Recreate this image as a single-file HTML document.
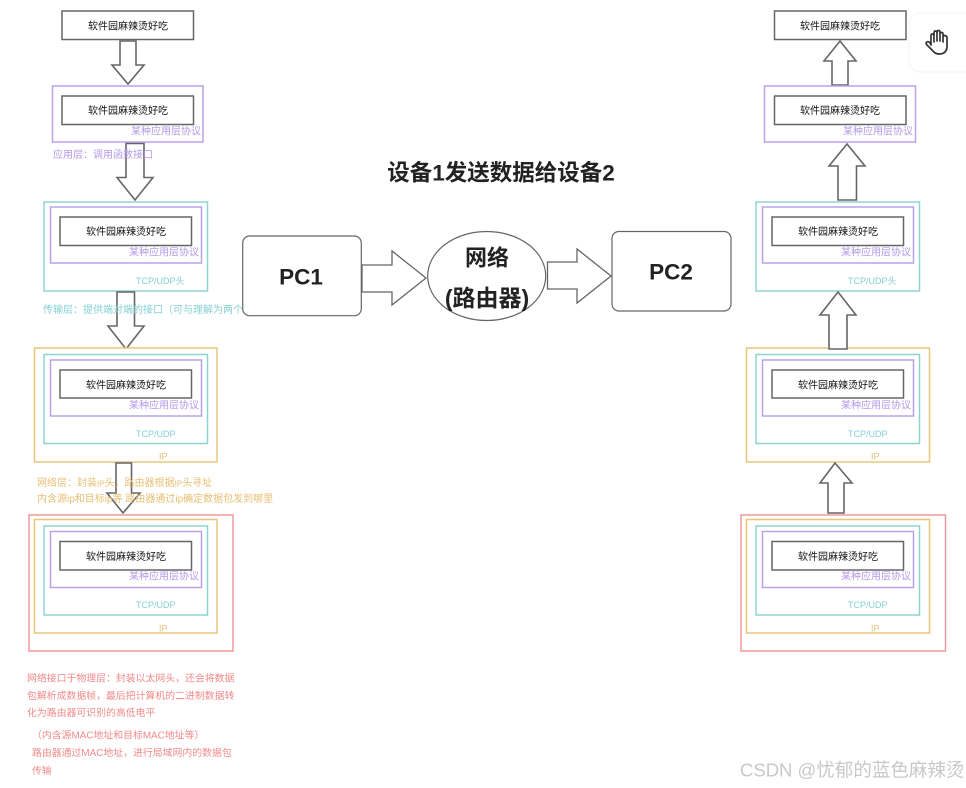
<!DOCTYPE html>
<html lang="zh">
<head>
<meta charset="utf-8">
<style>
html,body{margin:0;padding:0;background:#fff;}
body{width:966px;height:788px;overflow:hidden;position:relative;}
svg{display:block;position:absolute;left:0;top:0;}
text{font-family:"Liberation Sans","Noto Sans CJK SC",sans-serif;font-size:10px;dominant-baseline:central;transform:translateY(1.5px);}
.b{fill:#fff;stroke:#666;stroke-width:1.5;}
.a{fill:#fff;stroke:#666;stroke-width:1.6;stroke-linejoin:miter;}
.p{fill:#fff;stroke:#b9a2ea;stroke-width:1.5;}
.t{fill:#fff;stroke:#8fd3d0;stroke-width:1.5;}
.y{fill:#fff;stroke:#e8c67c;stroke-width:1.5;}
.r{fill:#fff;stroke:#ee9a9e;stroke-width:1.5;}
.bt{fill:#111;text-anchor:middle;}
.pt{fill:#b49ae8;}
.tt{fill:#85d0d4;}
.ts{fill:#85d0d4;font-size:9px;}
.yt{fill:#e6bf72;}
.ys{fill:#e6bf72;font-size:9px;}
.rt{fill:#f08a8a;font-size:9.9px;}
.big{font-weight:700;fill:#222;text-anchor:middle;}
</style>
</head>
<body>
<svg width="966" height="788" viewBox="0 0 966 788" xmlns="http://www.w3.org/2000/svg">
  <!-- LEFT STACK -->
  <polygon class="a" points="120,41 136,41 136,65 144,65 128,84 112,65 120,65"/>
  <rect class="p" x="52.5" y="86" width="150.5" height="56"/>
  <polygon class="a" points="126,143.5 144,143.5 144,177.5 153,177.5 135,200 117,177.5 126,177.5"/>
  <rect class="t" x="44" y="202" width="163.5" height="89"/>
  <rect class="p" x="50.5" y="207" width="151" height="56"/>
  <polygon class="a" points="117,292 134.5,292 134.5,326 144,326 126,349 108,326 117,326"/>
  <rect class="y" x="34.5" y="348" width="182.5" height="114"/>
  <rect class="t" x="44" y="354.5" width="163.5" height="89"/>
  <rect class="p" x="50.5" y="360" width="151" height="56"/>
  <polygon class="a" points="116,463 131.5,463 131.5,493 140,493 123,513 107,493 116,493"/>
  <rect class="r" x="29" y="515" width="204" height="136"/>
  <rect class="y" x="34.5" y="519.5" width="182.5" height="113.5"/>
  <rect class="t" x="44" y="526" width="163.5" height="89"/>
  <rect class="p" x="50.5" y="531.5" width="151" height="56"/>

  <rect class="b" x="62" y="11" width="131.5" height="28.5"/>
  <rect class="b" x="62" y="96" width="131.5" height="28.5"/>
  <rect class="b" x="60" y="217" width="131.5" height="28.5"/>
  <rect class="b" x="60" y="370" width="131.5" height="28"/>
  <rect class="b" x="60" y="541.5" width="131.5" height="28.5"/>

  <text class="bt" x="128" y="25.5">软件园麻辣烫好吃</text>
  <text class="bt" x="128" y="110">软件园麻辣烫好吃</text>
  <text class="bt" x="126" y="231">软件园麻辣烫好吃</text>
  <text class="bt" x="126" y="384.5">软件园麻辣烫好吃</text>
  <text class="bt" x="126" y="556">软件园麻辣烫好吃</text>

  <text class="pt" x="131" y="130.5">某种应用层协议</text>
  <text class="pt" x="53" y="154">应用层：调用函数接口</text>
  <text class="pt" x="129" y="251.5">某种应用层协议</text>
  <text class="ts" x="136" y="279.5">TCP/UDP头</text>
  <text class="tt" x="43" y="309">传输层：提供端对端的接口（可与理解为两个进程</text>
  <text class="pt" x="129" y="404.5">某种应用层协议</text>
  <text class="ts" x="136" y="432.5">TCP/UDP</text>
  <text class="ys" x="159" y="455">IP</text>
  <text class="yt" x="37" y="482">网络层：封装<tspan style="font-size:8px">IP</tspan>头，路由器根据<tspan style="font-size:8px">IP</tspan>头寻址</text>
  <text class="yt" x="37" y="498">内含源ip和目标ip等 路由器通过ip确定数据包发到哪里</text>
  <text class="pt" x="129" y="575.5">某种应用层协议</text>
  <text class="ts" x="136" y="603.5">TCP/UDP</text>
  <text class="ys" x="159" y="627">IP</text>
  <text class="rt" x="27" y="677.5">网络接口于物理层：封装以太网头，还会将数据</text>
  <text class="rt" x="27" y="695">包解析成数据帧，最后把计算机的二进制数据转</text>
  <text class="rt" x="27" y="712">化为路由器可识别的高低电平</text>
  <text class="rt" x="32" y="734.5">（内含源MAC地址和目标MAC地址等）</text>
  <text class="rt" x="32" y="752">路由器通过MAC地址，进行局域网内的数据包</text>
  <text class="rt" x="32" y="770">传输</text>

  <!-- CENTER -->
  <text class="big" x="501" y="171.5" style="font-size:22.5px">设备1发送数据给设备2</text>
  <rect class="b" x="242.7" y="236" width="118.6" height="79.7" rx="7" ry="7" style="stroke-width:1.2"/>
  <text class="big" x="301" y="275.5" style="font-size:22.5px">PC1</text>
  <polygon class="a" points="362,265 392,265 392,251 426,278 392,305 392,292 362,292" style="stroke-width:1.3"/>
  <ellipse cx="486.7" cy="276" rx="59" ry="44.5" fill="#fff" stroke="#666" stroke-width="1.2"/>
  <text class="big" x="487" y="256.5" style="font-size:22px">网络</text>
  <text class="big" x="487" y="296.5" style="font-size:23px">(路由器)</text>
  <polygon class="a" points="547.5,262 577,262 577,249 611,276 577,303 577,289 547.5,289" style="stroke-width:1.3"/>
  <rect class="b" x="612" y="231.5" width="119" height="79.5" rx="7" ry="7" style="stroke-width:1.2"/>
  <text class="big" x="671" y="270.5" style="font-size:22.5px">PC2</text>

  <!-- RIGHT STACK -->
  <polygon class="a" points="840,41 856,61 848,61 848,85 832,85 832,61 824,61"/>
  <rect class="p" x="764.5" y="86" width="151" height="56"/>
  <polygon class="a" points="847,144 865,166 856.5,166 856.5,200 838,200 838,166 829,166"/>
  <rect class="t" x="756" y="202" width="163.5" height="89"/>
  <rect class="p" x="762.5" y="207" width="151" height="56"/>
  <rect class="y" x="746.5" y="348" width="183" height="114"/>
  <polygon class="a" points="838,292 856,315 847,315 847,349 829,349 829,315 820,315"/>
  <rect class="t" x="756" y="354.5" width="163.5" height="89"/>
  <rect class="p" x="762.5" y="360" width="151" height="56"/>
  <rect class="r" x="741" y="515" width="204.5" height="136"/>
  <polygon class="a" points="835,463 852,483 844,483 844,513 828,513 828,483 820,483"/>
  <rect class="y" x="746.5" y="519.5" width="183" height="113.5"/>
  <rect class="t" x="756" y="526" width="163.5" height="89"/>
  <rect class="p" x="762.5" y="531.5" width="151" height="56"/>

  <rect class="b" x="774.5" y="11" width="131.5" height="28.5"/>
  <rect class="b" x="774.5" y="96" width="131.5" height="28.5"/>
  <rect class="b" x="772" y="217" width="131.5" height="28.5"/>
  <rect class="b" x="772" y="370" width="131.5" height="28"/>
  <rect class="b" x="772" y="541.5" width="131.5" height="28.5"/>

  <text class="bt" x="840" y="25.5">软件园麻辣烫好吃</text>
  <text class="bt" x="840" y="110">软件园麻辣烫好吃</text>
  <text class="bt" x="838" y="231">软件园麻辣烫好吃</text>
  <text class="bt" x="838" y="384.5">软件园麻辣烫好吃</text>
  <text class="bt" x="838" y="556">软件园麻辣烫好吃</text>

  <text class="pt" x="843" y="130.5">某种应用层协议</text>
  <text class="pt" x="841" y="251.5">某种应用层协议</text>
  <text class="ts" x="848" y="279.5">TCP/UDP头</text>
  <text class="pt" x="841" y="404.5">某种应用层协议</text>
  <text class="ts" x="848" y="432.5">TCP/UDP</text>
  <text class="ys" x="871" y="455">IP</text>
  <text class="pt" x="841" y="575.5">某种应用层协议</text>
  <text class="ts" x="848" y="603.5">TCP/UDP</text>
  <text class="ys" x="871" y="627">IP</text>

  <!-- FLOATING CARD -->
  <rect x="909" y="13" width="70" height="59" rx="11" ry="11" fill="#fff" stroke="#f3f3f3" stroke-width="1"/>
  <path d="M931 45 L931 36 Q931 34 932.5 34 Q934 34 934 36 L934 33 Q934 31 935.5 31 Q937 31 937 33 L937 32 Q937 30.5 938.5 30.5 Q940 30.5 940 32 L940 34 Q940 32.5 941.5 32.5 Q943 32.5 943 34 L943 37 Q943 35.5 944.5 35.5 Q946 35.5 947 37 L947 46 Q947 54 939 54 Q935 54 932 50 L926.5 44.5 Q925.5 43 927 42 Q928.5 41 930 43 Z M934 36 L934 42 M937 33 L937 41 M940 34 L940 41 M943 37 L943 42" fill="#fff" stroke="#333" stroke-width="1.7" stroke-linejoin="round" stroke-linecap="round"/>

  <!-- WATERMARK -->
  <text x="740" y="768.5" style="font-size:18.5px;fill:#c8c8c8">CSDN @忧郁的蓝色麻辣烫</text>
</svg>
</body>
</html>
